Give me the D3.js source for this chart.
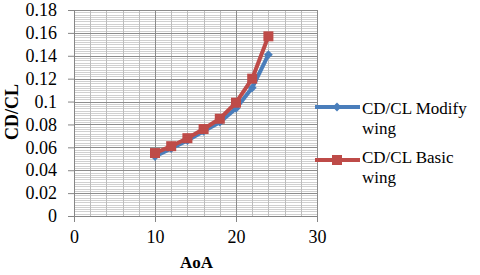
<!DOCTYPE html>
<html>
<head>
<meta charset="utf-8">
<script src="https://cdn.jsdelivr.net/npm/d3@7"></script>
<style>
  body { margin: 0; background: #fff; }
  svg text { font-family: "Liberation Serif", "Times New Roman", serif; }
</style>
</head>
<body>
<div id="chart"></div>
<script>
// data
var aoa = [10, 12, 14, 16, 18, 20, 22, 24];
var modifyWing = [0.052, 0.059, 0.066, 0.074, 0.082, 0.094, 0.112, 0.141];
var basicWing = [0.055, 0.061, 0.068, 0.076, 0.085, 0.099, 0.120, 0.157];
var xTicks = [0, 10, 20, 30];
var yTicks = [0, 0.02, 0.04, 0.06, 0.08, 0.1, 0.12, 0.14, 0.16, 0.18];
var seriesNames = ["CD/CL Modify wing", "CD/CL Basic wing"];

var svgWidth = 480, svgHeight = 275;
var margin = { top: 10, left: 74, right: 163, bottom: 59 };
var width = svgWidth - margin.left - margin.right;
var height = svgHeight - margin.top - margin.bottom;

var svg = d3.select("#chart")
    .append("svg")
    .attr("width", svgWidth)
    .attr("height", svgHeight);

var chartGroup = svg.append("g")
    .attr("transform", `translate(${margin.left}, ${margin.top})`);

var xScale = d3.scaleLinear().domain([0, 30]).range([0, width]);
var yScale = d3.scaleLinear().domain([0, 0.18]).range([height, 0]);

// minor grid
chartGroup.append("g")
    .selectAll("line")
    .data(d3.range(0, 0.1801, 0.002))
    .enter()
    .append("line")
    .attr("x1", 0).attr("x2", width)
    .attr("y1", d => Math.round(yScale(d)) + 0.5)
    .attr("y2", d => Math.round(yScale(d)) + 0.5)
    .attr("stroke", "#d0d0d0").attr("stroke-width", 1);

chartGroup.append("g")
    .selectAll("line")
    .data(d3.range(0, 30.01, 2))
    .enter()
    .append("line")
    .attr("y1", 0).attr("y2", height)
    .attr("x1", d => Math.round(xScale(d)) + 0.5)
    .attr("x2", d => Math.round(xScale(d)) + 0.5)
    .attr("stroke", "#bdbdbd").attr("stroke-width", 1);

// major grid
chartGroup.append("g")
    .selectAll("line")
    .data(yTicks)
    .enter()
    .append("line")
    .attr("x1", 0).attr("x2", width)
    .attr("y1", d => Math.round(yScale(d)) + 0.5)
    .attr("y2", d => Math.round(yScale(d)) + 0.5)
    .attr("stroke", "#8c8c8c").attr("stroke-width", 1);

chartGroup.append("g")
    .selectAll("line")
    .data(xTicks)
    .enter()
    .append("line")
    .attr("y1", 0).attr("y2", height)
    .attr("x1", d => Math.round(xScale(d)) + 0.5)
    .attr("x2", d => Math.round(xScale(d)) + 0.5)
    .attr("stroke", "#8c8c8c").attr("stroke-width", 1);

// axes
var xAxis = d3.axisBottom(xScale).tickValues(xTicks).tickSize(6).tickPadding(8);
var yAxis = d3.axisLeft(yScale).tickValues(yTicks).tickSize(6).tickPadding(11)
    .tickFormat(d => d3.format("")(+d.toFixed(2)));

var gx = chartGroup.append("g")
    .attr("transform", `translate(0, ${height})`)
    .call(xAxis);
var gy = chartGroup.append("g")
    .call(yAxis);

[gx, gy].forEach(function (g) {
    g.attr("font-family", null).attr("font-size", null);
    g.select(".domain").attr("stroke", "#868686");
    g.selectAll(".tick line").attr("stroke", "#868686");
    g.selectAll(".tick text")
        .style("font-family", "'Liberation Serif', 'Times New Roman', serif")
        .style("font-size", "18px")
        .attr("fill", "#000");
});

// axis titles
chartGroup.append("text")
    .attr("transform", "rotate(-90)")
    .attr("x", 0 - 102)
    .attr("y", 18 - margin.left)
    .attr("text-anchor", "middle")
    .attr("font-weight", "bold")
    .attr("font-size", "18px")
    .text("CD/CL");

chartGroup.append("text")
    .attr("x", xScale(15) + 1)
    .attr("y", 268 - margin.top)
    .attr("text-anchor", "middle")
    .attr("font-weight", "bold")
    .attr("font-size", "17px")
    .text("AoA");

// series
var series = [
    { name: seriesNames[0], values: modifyWing, color: "#4a7ebb", marker: "diamond" },
    { name: seriesNames[1], values: basicWing, color: "#be4b48", marker: "square" }
];

var line = d3.line()
    .x(d => xScale(d[0]))
    .y(d => yScale(d[1]));

function drawMarker(g, type, color) {
    if (type === "square") {
        g.append("rect")
            .attr("x", -5).attr("y", -5)
            .attr("width", 10).attr("height", 10)
            .attr("fill", color);
    } else {
        g.append("path")
            .attr("d", d3.symbol().type(d3.symbolDiamond2).size(50)())
            .attr("fill", color);
    }
}

series.forEach(function (s) {
    var pts = aoa.map((a, i) => [a, s.values[i]]);
    chartGroup.append("path")
        .datum(pts)
        .attr("d", line)
        .attr("fill", "none")
        .attr("stroke", s.color)
        .attr("stroke-width", 4)
        .attr("stroke-linejoin", "round");
    chartGroup.selectAll(null)
        .data(pts)
        .enter()
        .append("g")
        .attr("transform", d => `translate(${xScale(d[0])}, ${yScale(d[1])})`)
        .each(function () { drawMarker(d3.select(this), s.marker, s.color); });
});

// legend
var legend = svg.append("g");
var legendY = [107, 160];
var textOffset = [7, 3];
series.forEach(function (s, i) {
    var row = legend.append("g").attr("transform", `translate(315, ${legendY[i]})`);
    row.append("line")
        .attr("x1", 0).attr("x2", 45)
        .attr("stroke", s.color).attr("stroke-width", 4);
    var m = row.append("g").attr("transform", "translate(22, 0)");
    drawMarker(m, s.marker, s.color);
    var words = s.name.split(" ");
    var t = row.append("text")
        .attr("x", 47)
        .attr("y", textOffset[i])
        .attr("font-size", "17px")
        .attr("fill", "#000");
    t.append("tspan").attr("x", 47).text(words.slice(0, 2).join(" "));
    t.append("tspan").attr("x", 47).attr("dy", 19.5).text(words[2]);
});
</script>
</body>
</html>
